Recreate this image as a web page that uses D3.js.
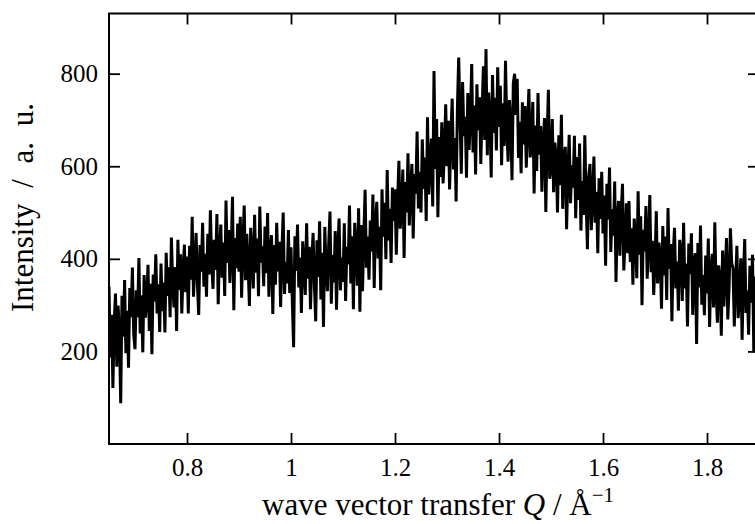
<!DOCTYPE html>
<html>
<head>
<meta charset="utf-8">
<script src="https://cdn.jsdelivr.net/npm/d3@7"></script>
<style>
  html, body { margin: 0; padding: 0; background: #fff; }
  svg { display: block; }
  text { font-family: "Liberation Serif", "Times New Roman", serif; fill: #000; }
</style>
</head>
<body>
<svg id="chart" width="755" height="524"></svg>
<script>
// Scattering intensity on a regular Q grid (Å^-1), starting at qStart with step qStep.
const qStart = 0.65;
const qStep = 0.0025;
const intensity = [
  340,187,279,121,263,325,167,299,241,88,320,232,354,196,288,165,337,274,381,238,
  205,332,274,402,239,321,198,365,273,310,387,244,346,194,366,308,410,282,345,242,
  390,287,349,241,413,320,382,274,446,343,295,382,244,441,333,410,282,374,431,328,
  405,282,428,355,491,318,384,456,347,279,430,372,478,340,411,318,454,366,505,389,
  335,441,376,497,302,418,474,359,435,320,526,391,462,348,418,534,289,445,380,476,
  372,491,316,430,515,354,454,388,298,467,411,336,495,370,444,319,513,392,427,341,
  470,369,499,318,412,451,281,430,344,478,373,437,296,415,500,324,393,347,462,326,
  425,310,209,449,374,474,338,403,283,438,387,322,477,357,426,291,396,456,345,265,
  440,361,481,312,413,253,469,380,330,431,502,303,408,349,460,290,426,487,332,403,
  350,477,309,426,388,515,347,449,291,478,420,342,509,286,473,330,447,549,381,448,
  355,483,416,539,337,480,523,401,469,332,550,448,521,399,592,440,508,391,554,482,
  550,409,523,612,465,509,593,402,566,500,628,472,551,605,444,583,541,675,509,588,
  500,658,551,619,482,706,539,607,660,513,806,594,702,490,663,577,695,563,631,734,
  600,698,550,668,746,593,661,524,726,835,707,584,782,665,707,575,758,635,703,821,
  630,731,582,777,678,749,605,720,816,657,853,624,759,710,576,797,672,748,634,814,
  685,774,602,736,644,828,686,610,743,697,570,779,800,711,789,618,696,585,738,647,
  730,597,690,767,619,656,739,541,688,590,758,625,687,545,652,704,501,659,765,573,
  595,702,544,651,618,500,667,559,711,508,615,642,464,586,668,520,602,554,666,488,
  620,527,649,461,568,495,667,529,421,578,605,462,529,621,478,545,412,574,486,588,
  455,537,385,562,485,597,415,507,450,567,350,487,525,407,500,562,375,442,520,412,
  525,393,466,344,487,445,358,546,409,492,300,463,416,514,357,435,538,371,439,322,
  390,503,347,435,409,292,471,364,448,311,510,378,432,265,409,467,336,394,288,441,
  415,309,478,336,390,254,433,367,455,279,393,412,216,434,338,472,301,365,278,407,
  325,444,253,372,411,295,479,333,262,386,355,234,418,297,366,445,269,338,466,391,
  380,254,349,428,272,321,401,225,359,443,283,332,236,385,305,409,198,362,287,341,400
];

const xTicks = [0.8, 1.0, 1.2, 1.4, 1.6, 1.8];
const xTickLabels = ["0.8", "1", "1.2", "1.4", "1.6", "1.8"];
const yTicks = [200, 400, 600, 800];
const yTickLabels = ["200", "400", "600", "800"];

const data = intensity.map((v, i) => ({ q: qStart + i * qStep, v }));

const svg = d3.select("#chart");
const plot = { left: 109, right: 759, top: 13.5, bottom: 444 };

const x = d3.scaleLinear().domain([0.65, 1.9]).range([plot.left, plot.right]);
const y = d3.scaleLinear().domain([0, 930]).range([plot.bottom, plot.top]);

svg.append("defs").append("clipPath").attr("id", "plot-clip")
  .append("rect")
  .attr("x", plot.left).attr("y", plot.top)
  .attr("width", plot.right - plot.left).attr("height", plot.bottom - plot.top);

// Intensity trace
const line = d3.line().x(d => x(d.q)).y(d => y(d.v));
svg.append("path")
  .datum(data)
  .attr("clip-path", "url(#plot-clip)")
  .attr("fill", "none")
  .attr("stroke", "#000")
  .attr("stroke-width", 3)
  .attr("stroke-linejoin", "miter")
  .attr("stroke-miterlimit", 1.5)
  .attr("d", line);

// Axes with inward ticks on all four sides
const tickLen = 11;
const tickFont = 25;
const titleFont = 31;

const bottomAxis = d3.axisBottom(x).tickValues(xTicks)
  .tickFormat((d, i) => xTickLabels[i]).tickSizeInner(-tickLen).tickSizeOuter(0).tickPadding(14);
const topAxis = d3.axisTop(x).tickValues(xTicks).tickFormat("").tickSizeInner(-tickLen).tickSizeOuter(0);
const leftAxis = d3.axisLeft(y).tickValues(yTicks)
  .tickFormat((d, i) => yTickLabels[i]).tickSizeInner(-tickLen).tickSizeOuter(0).tickPadding(11);
const rightAxis = d3.axisRight(y).tickValues(yTicks).tickFormat("").tickSizeInner(-tickLen).tickSizeOuter(0);

function styleAxis(g) {
  g.select(".domain").remove();
  g.selectAll(".tick line").attr("stroke", "#000").attr("stroke-width", 1.8);
  g.selectAll(".tick text")
    .style("font-family", '"Liberation Serif", "Times New Roman", serif')
    .style("font-size", tickFont + "px")
    .attr("fill", "#000");
}

svg.append("g").attr("transform", `translate(0,${plot.bottom})`).call(bottomAxis).call(styleAxis);
svg.append("g").attr("transform", `translate(0,${plot.top})`).call(topAxis).call(styleAxis);
svg.append("g").attr("transform", `translate(${plot.left},0)`).call(leftAxis).call(styleAxis);
svg.append("g").attr("transform", `translate(${plot.right},0)`).call(rightAxis).call(styleAxis);

// Frame
svg.append("rect")
  .attr("x", plot.left).attr("y", plot.top)
  .attr("width", plot.right - plot.left).attr("height", plot.bottom - plot.top)
  .attr("fill", "none").attr("stroke", "#000").attr("stroke-width", 2);

// Axis titles
const xTitle = svg.append("text")
  .attr("x", 262).attr("y", 515)
  .attr("text-anchor", "start")
  .style("font-size", titleFont + "px");
xTitle.append("tspan").text("wave vector transfer ");
xTitle.append("tspan").style("font-style", "italic").text("Q");
xTitle.append("tspan").text(" / Å");
xTitle.append("tspan").attr("dy", -13).style("font-size", "21px").text("−1");

svg.append("text")
  .attr("transform", "translate(33,207.5) rotate(-90)")
  .attr("text-anchor", "middle")
  .style("font-size", titleFont + "px")
  .style("word-spacing", "8px")
  .text("Intensity / a. u.");
</script>
</body>
</html>
